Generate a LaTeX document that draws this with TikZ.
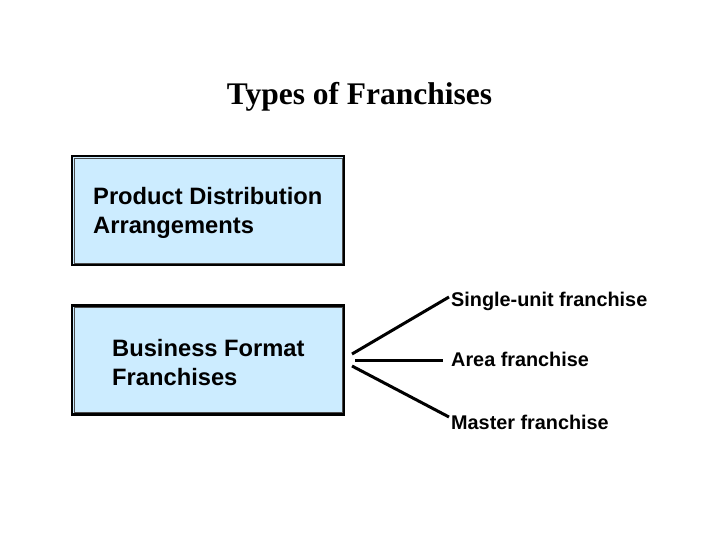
\documentclass[tikz,border=0pt]{standalone}
\usepackage{fontspec}
\setmainfont{Liberation Serif}
\setsansfont{Liberation Sans}
\definecolor{boxfill}{RGB}{204,236,255}
\begin{document}
\begin{tikzpicture}[x=1bp,y=-1bp,
  catbox/.style={draw=black,line width=2.2bp,fill=boxfill,minimum width=272bp,minimum height=109bp,inner sep=0pt},
  innerline/.style={draw=black!70,line width=0.7bp},
  boxtext/.style={font=\sffamily\bfseries\fontsize{23.8}{28}\selectfont,anchor=base west,inner sep=0pt},
  labeltext/.style={font=\sffamily\bfseries\fontsize{19.9}{24}\selectfont,anchor=base west,inner sep=0pt},
  branch/.style={line width=3bp,black}]
\useasboundingbox (0,0) rectangle (720,540);
% title
\node[font=\rmfamily\bfseries\fontsize{31.6}{36}\selectfont,anchor=base,inner sep=0pt] (title) at (359.5,105) {Types of Franchises};
% boxes
\node[catbox] (pda) at (208,210.5) {};
\draw[innerline] ([shift={(3,-3)}]pda.south west) rectangle ([shift={(-3,3)}]pda.north east);
\node[catbox] (bff) at (208,360) {};
\draw[innerline] ([shift={(3,-3)}]bff.south west) rectangle ([shift={(-3,3)}]bff.north east);
% box texts
\node[boxtext] (pda1) at (93,205) {Product Distribution};
\node[boxtext] (pda2) at (93,234) {Arrangements};
\node[boxtext] (bff1) at (112,356) {Business Format};
\node[boxtext] (bff2) at (112,385) {Franchises};
% branch labels
\node[labeltext] (single) at (451,306) {Single-unit franchise};
\node[labeltext] (area) at (451,366) {Area franchise};
\node[labeltext] (master) at (451,429) {Master franchise};
% branch lines
\coordinate (s1) at (352,354);
\coordinate (s2) at (449,297);
\coordinate (a1) at (355,360);
\coordinate (a2) at (443,360);
\coordinate (m1) at (352,366);
\coordinate (m2) at (449,417);
\draw[branch] (s1) -- (s2);
\draw[branch] (a1) -- (a2);
\draw[branch] (m1) -- (m2);
\end{tikzpicture}
\end{document}
